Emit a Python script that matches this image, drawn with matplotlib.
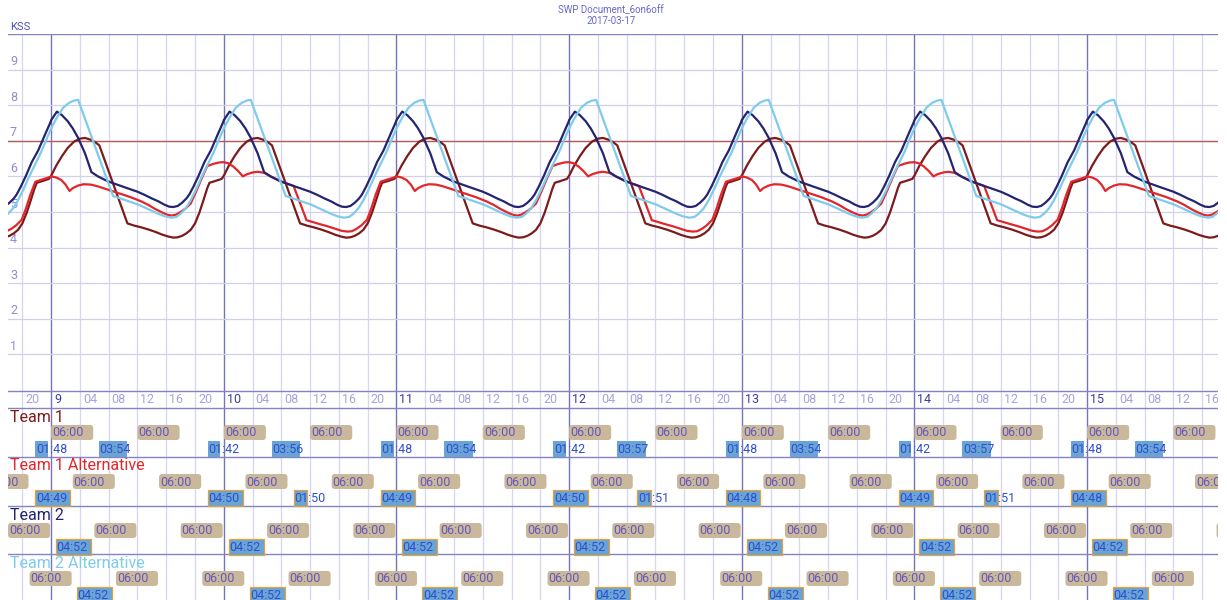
import numpy as np
import matplotlib
matplotlib.use("Agg")
import matplotlib.pyplot as plt
from matplotlib.patches import FancyBboxPatch, Rectangle

plt.rcParams['font.family'] = ['Roboto', 'DejaVu Sans']

# ---------------- data ----------------
TITLE = "SWP Document_6on6off"
DATE = "2017-03-17"
Y_LABEL = "KSS"
y_ticks = [1, 2, 3, 4, 5, 6, 7, 8, 9]
threshold = 7

# hours relative to day 9, 00:00
x_min, x_max = -6.0, 162.2
first_day = 9
tick_step = 4

team_names = ["Team 1", "Team 1 Alternative", "Team 2", "Team 2 Alternative"]
team_colors = ["#7d1b1b", "#e2262a", "#242470", "#7ecbec"]

# KSS profiles: hour within the period -> KSS value
team1_hours = [0.0, 0.7, 1.5, 2.3, 3.2, 4.0, 4.7, 5.5, 6.2, 6.7, 10.6, 11.5, 12.5, 13.5, 14.5, 15.5, 16.3,
               17.0, 17.6, 18.2, 18.8, 19.4, 20.0, 20.6, 21.2, 21.7, 22.0, 22.8, 23.7]
team1_kss = [6.02, 6.3, 6.57, 6.8, 6.98, 7.06, 7.08, 7.03, 6.95, 6.87, 4.68, 4.62, 4.57, 4.51, 4.44, 4.36, 4.31,
             4.28, 4.29, 4.33, 4.4, 4.5, 4.68, 4.98, 5.35, 5.67, 5.82, 5.87, 5.93]

team1alt_hours = [0.0, 0.7, 1.4, 2.0, 2.55, 3.0, 3.7, 4.5, 5.5, 6.5, 8.0, 9.5, 11.0, 12.5, 13.5, 14.5, 15.5,
                  16.2, 16.8, 17.4, 18.0, 18.7, 19.4, 20.2, 21.0, 21.7, 22.5, 23.3,
                  24.0, 24.6, 25.3, 26.0, 26.65, 27.2, 28.0, 28.7, 29.6, 30.5, 31.9, 33.0, 33.7, 35.5,
                  36.5, 37.5, 38.4, 39.5, 40.4, 41.2, 41.8, 42.4, 43.1, 43.9, 44.5, 45.1, 45.8, 46.7, 47.5]
team1alt_kss = [6.0, 5.97, 5.9, 5.77, 5.59, 5.67, 5.74, 5.78, 5.77, 5.72, 5.62, 5.52, 5.42, 5.3, 5.2, 5.08, 4.98,
                4.92, 4.9, 4.93, 5.0, 5.1, 5.24, 5.6, 5.98, 6.29, 6.35, 6.39,
                6.4, 6.37, 6.28, 6.15, 6.0, 6.06, 6.11, 6.13, 6.1, 6.0, 5.86, 5.78, 5.73, 4.77,
                4.71, 4.65, 4.6, 4.53, 4.47, 4.45, 4.46, 4.52, 4.62, 4.78, 5.1, 5.48, 5.85, 5.91, 5.96]

team2_hours = [0.0, 0.8, 1.5, 2.3, 3.0, 3.7, 4.7, 5.6, 6.5, 7.9, 9.0, 10.0, 11.0, 12.0, 13.0, 14.0, 14.9, 15.7,
               16.4, 17.0, 17.6, 18.2, 18.8, 19.2, 19.8, 20.5, 21.3, 22.2, 23.2, 23.9]
team2_kss = [7.58, 7.82, 7.72, 7.55, 7.35, 7.1, 6.65, 6.12, 6.0, 5.86, 5.78, 5.71, 5.64, 5.57, 5.48, 5.38, 5.3, 5.21,
             5.15, 5.14, 5.17, 5.26, 5.38, 5.49, 5.72, 6.02, 6.4, 6.73, 7.2, 7.52]

team2alt_hours = [0.0, 0.8, 1.67, 2.5, 3.2, 3.75, 8.6, 9.5, 10.5, 12.1, 13.5, 14.9, 15.8, 16.7, 17.4, 18.0,
                  18.7, 19.4, 20.2, 21.0, 21.8, 22.6, 23.3]
team2alt_kss = [7.35, 7.65, 7.93, 8.07, 8.13, 8.15, 5.45, 5.39, 5.32, 5.21, 5.08, 4.95, 4.88, 4.84, 4.86, 4.95,
                5.1, 5.33, 5.66, 6.02, 6.35, 6.68, 7.02]

profile_periods = [24, 48, 24, 24]

# shifts (each "06:00" long), start hour of day, for days 8..15
shift_label = "06:00"
shift_days = [8, 9, 10, 11, 12, 13, 14, 15]
team1_shift_hours = [0, 12]
team1alt_shift_hours = [3, 15]
team2_shift_hours = [6, 18]
team2alt_shift_hours = [9, 21]

# sleep periods: day, start hour (relative to that day's midnight), duration label
team1_sleep_days = [9, 9, 10, 10, 11, 11, 12, 12, 13, 13, 14, 14, 15, 15]
team1_sleep_hours = [-2.2, 6.67] * 7
team1_sleep_labels = ["01:48", "03:54", "01:42", "03:56", "01:48", "03:54", "01:42", "03:57",
                      "01:48", "03:54", "01:42", "03:57", "01:48", "03:54"]

team1alt_sleep_days = [9, 10, 10, 11, 12, 12, 13, 14, 14, 15]
team1alt_sleep_hours = [-2.2, -2.2, 9.7, -2.2, -2.2, 9.5, -2.2, -2.2, 9.7, -2.2]
team1alt_sleep_labels = ["04:49", "04:50", "01:50", "04:49", "04:50", "01:51", "04:48", "04:49", "01:51", "04:48"]

team2_sleep_days = [9, 10, 11, 12, 13, 14, 15]
team2_sleep_hours = [0.7] * 7
team2_sleep_labels = ["04:52"] * 7

team2alt_sleep_days = [9, 10, 11, 12, 13, 14, 15]
team2alt_sleep_hours = [3.6] * 7
team2alt_sleep_labels = ["04:52"] * 7

# ---------------- styling ----------------
W, H = 1227, 600
fig = plt.figure(figsize=(W / 100, H / 100), dpi=100)
fig.patch.set_facecolor("white")

ax_left = 8 / W
ax_w = 1210 / W
main_bottom_px = 390
main_top_px = 34
ax = fig.add_axes([ax_left, (H - main_bottom_px) / H, ax_w, (main_bottom_px - main_top_px) / H])
ax2 = fig.add_axes([ax_left, 0, ax_w, (H - main_bottom_px) / H])

for a in (ax, ax2):
    a.set_xlim(x_min, x_max)
    a.set_xticks([])
    a.set_yticks([])
    for s in a.spines.values():
        s.set_visible(False)
    a.set_facecolor("white")

ax.set_ylim(0, 10)
ax2.set_ylim(H - main_bottom_px, 0)

px_per_h = 1210 / (x_max - x_min)

minor_col = "#d6d6f0"
major_col = "#7474b8"
hgrid_col = "#d0d0ec"
border_col = "#8484c4"

# vertical grid
tick_pos = np.arange(np.ceil(x_min / tick_step) * tick_step, x_max, tick_step)
for t in tick_pos:
    is_day = (t % 24 == 0)
    for a in (ax, ax2):
        a.axvline(t, color=major_col if is_day else minor_col, lw=1.0 if is_day else 0.9, zorder=1)

# horizontal grid
for v in y_ticks:
    ax.axhline(v, color=hgrid_col, lw=0.9, zorder=1)
    ax.text(x_min + 2 / px_per_h, v + 0.04, str(v), color="#8e8ed0", fontsize=9, ha="left", va="bottom", zorder=2)
ax.axhline(10, color=border_col, lw=1.0, zorder=2)
ax.axhline(threshold, color="#b25c5c", lw=1.0, zorder=2)

# curves
profiles = [(team1_hours, team1_kss), (team1alt_hours, team1alt_kss),
            (team2_hours, team2_kss), (team2alt_hours, team2alt_kss)]


def periodic(hours, vals, period):
    ts, vs = [], []
    k0 = int(np.floor(x_min / period)) - 1
    k1 = int(np.ceil(x_max / period)) + 1
    for k in range(k0, k1):
        ts.extend(np.asarray(hours) + k * period)
        vs.extend(vals)
    return np.array(ts), np.array(vs)


draw_order = [3, 1, 0, 2]
for i in draw_order:
    h, v = profiles[i]
    t, k = periodic(h, v, profile_periods[i])
    ax.plot(t, k, color=team_colors[i], lw=1.6, zorder=5 + i, solid_joinstyle="round")

# bottom panel
row_tops = [18, 67, 116, 164]
for y in [1] + row_tops:
    ax2.axhline(y, color=border_col, lw=1.0, zorder=3)

for t in tick_pos:
    is_day = (t % 24 == 0)
    if is_day:
        lab = str(first_day + int(t // 24))
        col = "#3c3ca0"
    else:
        lab = "%02d" % int(t % 24)
        col = "#a4a4da"
    ax2.text(t + 3 / px_per_h, 9.5, lab, color=col, fontsize=9, ha="left", va="center", zorder=4,
             clip_on=True)

shift_sets = [team1_shift_hours, team1alt_shift_hours, team2_shift_hours, team2alt_shift_hours]
sleep_sets = [(team1_sleep_days, team1_sleep_hours, team1_sleep_labels),
              (team1alt_sleep_days, team1alt_sleep_hours, team1alt_sleep_labels),
              (team2_sleep_days, team2_sleep_hours, team2_sleep_labels),
              (team2alt_sleep_days, team2alt_sleep_hours, team2alt_sleep_labels)]

tan = "#c9b99a"
blue = "#69a4d4"
tan_text = "#6656c2"
blue_text = "#2f4fd0"


def dur(label):
    hh, mm = label.split(":")
    return int(hh) + int(mm) / 60


for r, top in enumerate(row_tops):
    ax2.text(x_min + 2 / px_per_h, top + 9, team_names[r], color=team_colors[r], fontsize=11.5,
             ha="left", va="center", zorder=6)
    # shifts
    for d in shift_days:
        for sh in shift_sets[r]:
            s = (d - first_day) * 24 + sh
            length = dur(shift_label)
            if s + length <= x_min or s >= x_max:
                continue
            box = FancyBboxPatch((s, top + 17), length - 0.15, 15,
                                 boxstyle="round,pad=0,rounding_size=0.45", mutation_aspect=7.2,
                                 facecolor=tan, edgecolor="none", zorder=4, clip_on=True)
            ax2.add_patch(box)
            if s < x_max - 1:
                ax2.text(s + 1 / px_per_h, top + 25, shift_label, color=tan_text, fontsize=9,
                         ha="left", va="center", zorder=5, clip_on=True)
    # sleeps
    ds, hs, ls = sleep_sets[r]
    for d, hh, lab in zip(ds, hs, ls):
        s = (d - first_day) * 24 + hh
        rect = Rectangle((s, top + 33), dur(lab), 15.5, facecolor=blue,
                         edgecolor="none" if r == 0 else "#e6a23a", lw=0.9, zorder=4, clip_on=True)
        ax2.add_patch(rect)
        ax2.text(s + 0.5 / px_per_h, top + 41.5, lab, color=blue_text, fontsize=9,
                 ha="left", va="center", zorder=5, clip_on=True)

# titles
fig.text(611 / W, 1 - 10 / H, TITLE, color="#6868cc", fontsize=7, ha="center", va="center")
fig.text(611 / W, 1 - 21 / H, DATE, color="#6868cc", fontsize=7, ha="center", va="center")
fig.text(10 / W, 1 - 27 / H, Y_LABEL, color="#5252b4", fontsize=8, ha="left", va="center")

fig.savefig("out.png", dpi=100, facecolor="white")
